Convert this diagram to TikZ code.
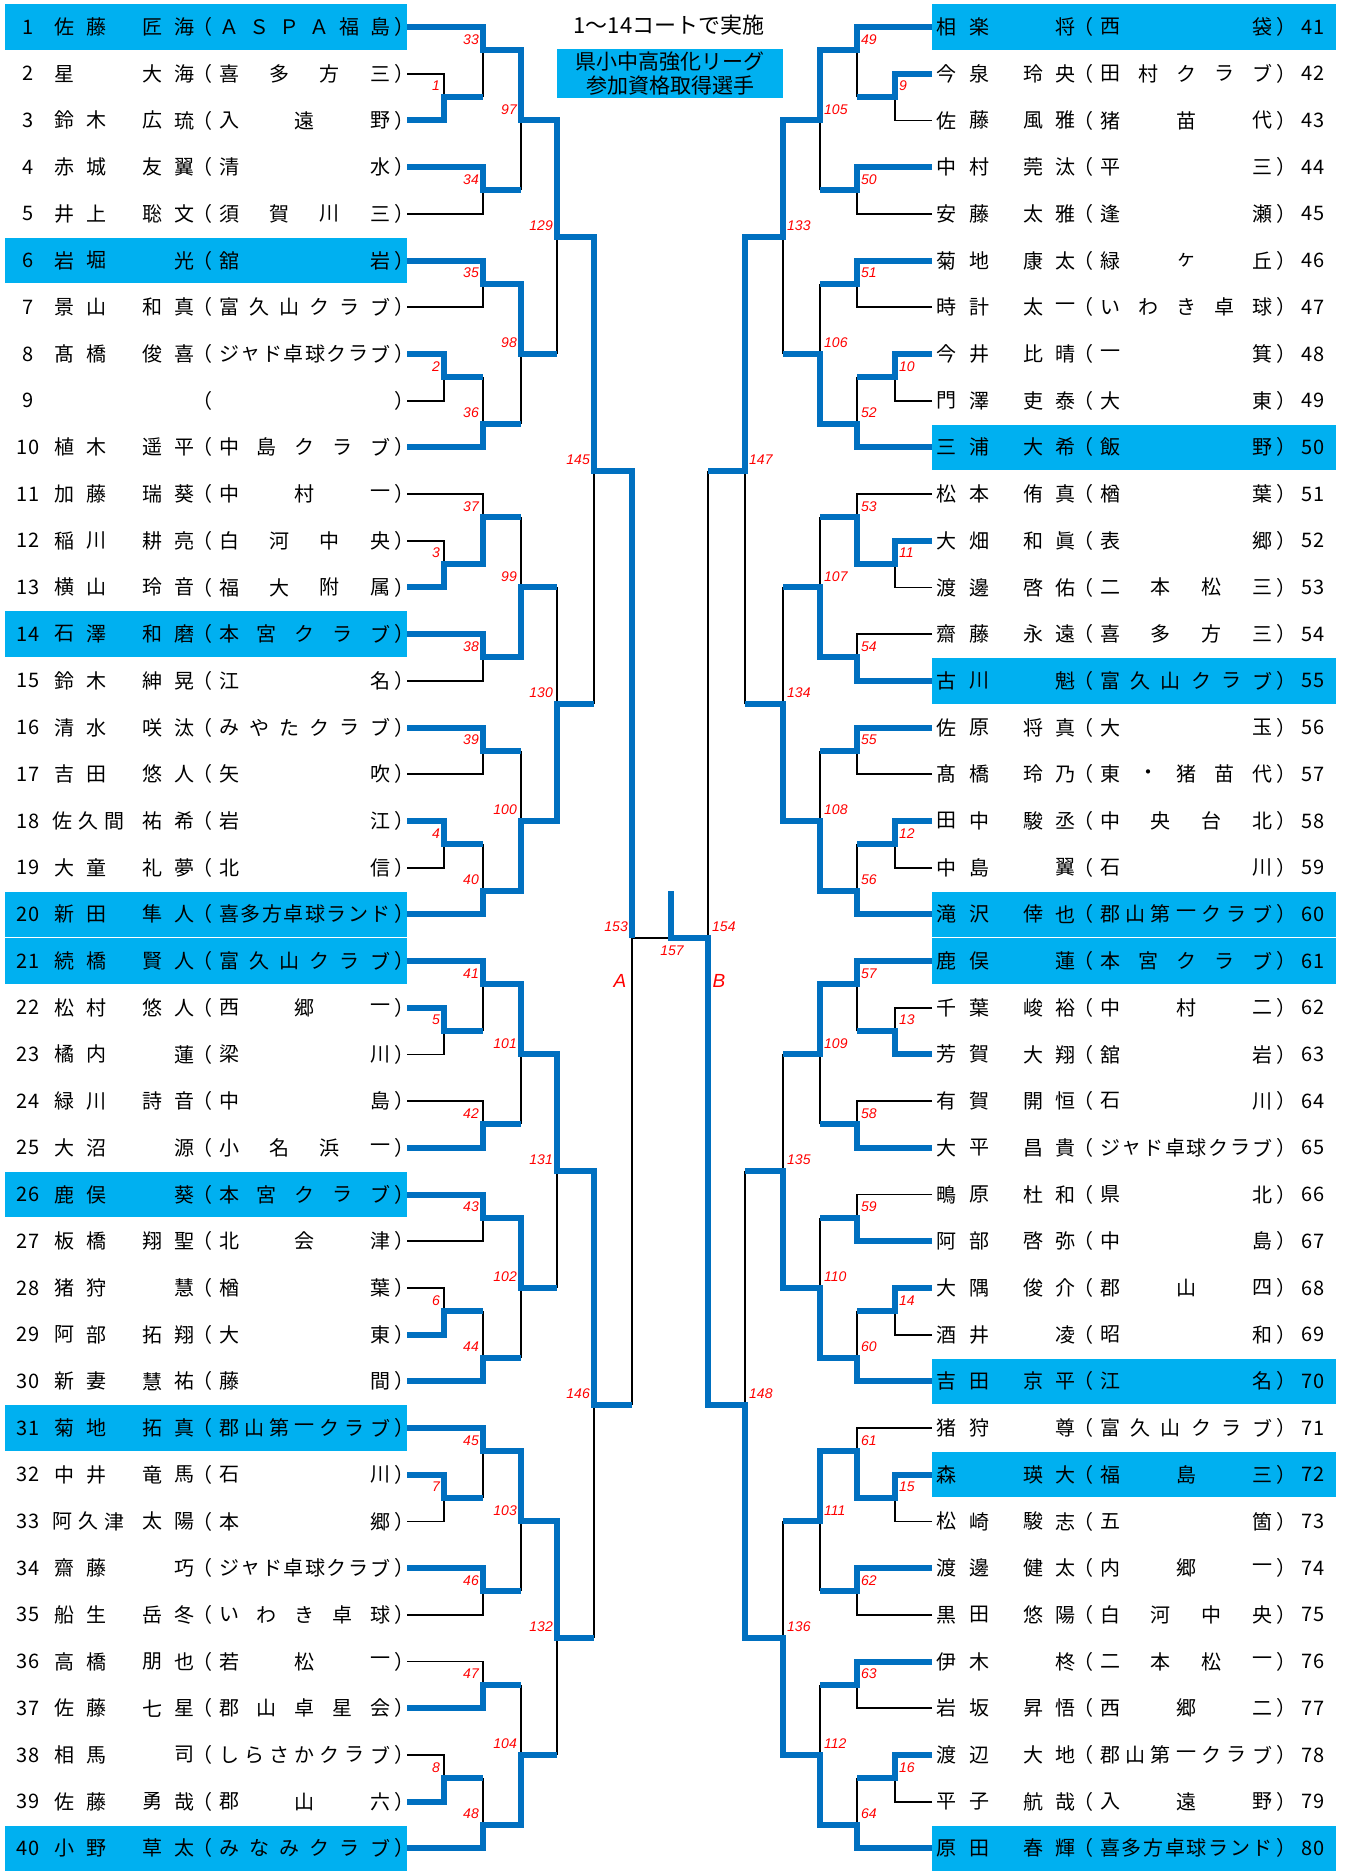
\documentclass[tikz,border=0pt]{standalone}
\usepackage{fontspec}
\setmainfont{Noto Sans CJK JP}
\newfontfamily\labfont{Liberation Sans}
\definecolor{hl}{HTML}{00B0F0}
\definecolor{bl}{HTML}{0070C0}
\definecolor{rd}{HTML}{FF0000}
\tikzset{
  win/.style={draw=bl, line width=6pt},
  lose/.style={draw=black, line width=1.8pt},
  lab/.style={text=rd, font=\labfont\itshape\fontsize{14}{14}\selectfont, inner sep=0pt},
  big/.style={text=rd, font=\labfont\itshape\fontsize{19}{19}\selectfont, inner sep=0pt},
  txt/.style={font=\fontsize{20}{20}\selectfont, inner sep=0pt},
}
\def\cLz{407}\def\cLa{444}\def\cLb{483}\def\cLc{521}\def\cLd{557}\def\cLe{594}\def\cLf{632}
\def\cRz{932}\def\cRa{895}\def\cRb{857}\def\cRc{820}\def\cRd{783}\def\cRe{745}\def\cRf{708}
\def\cMid{670.5}
\newcount\mphase
\newcommand\countlist[2]{\gdef#1{0}\foreach \c [count=\n] in {#2} {\xdef#1{\n}}}
\newcommand\MT[9]{%
 \ifnum\mphase=0
   \ifdim#3pt=#5pt \draw[lose] (#5,{ry(#4)}) -- (#5,{ry(#6)});
   \else \draw[lose] (#3,{ry(#4)}) -- (#5,{ry(#4)}) -- (#5,{ry(#6)}); \fi
 \else
   \draw[win] (#1,{ry(#2)}) -- (#5,{ry(#2)}) -- (#5,{ry(#6)}) -- (#7,{ry(#6)});
   \if#9L \node[lab,anchor=east] (m#8) at ({#5-4},{ry(#6)-11}) {#8};
   \else \node[lab,anchor=west] (m#8) at ({#5+4},{ry(#6)-11}) {#8}; \fi
 \fi}
\newcommand\rowL[5]{%
 \pgfmathsetmacro\yy{ry(#1)}
 \ifnum#5=1 \fill[hl] (5,\yy-22.7) rectangle (407,\yy+22.7);\fi
 \node[txt] (L#1n) at (28,\yy) {#1};
 \countlist\ns{#2}\countlist\ng{#3}\countlist\nt{#4}
 \foreach \c [count=\i] in {#2} {\pgfmathsetmacro\xx{\ns>2 ? 62+(\i-1)*26 : 64+(\i-1)*32}\node[txt] (L#1s\i) at (\xx,\yy) {\c};}
 \foreach \c [count=\i] in {#3} {\pgfmathsetmacro\xx{184-(\ng-\i)*32}\node[txt] (L#1g\i) at (\xx,\yy) {\c};}
 \node[txt] (L#1po) at (202.4,\yy) {（};
 \node[txt] (L#1pc) at (404.6,\yy) {）};
 \foreach \c [count=\i] in {#4} {\pgfmathsetmacro\xx{229+(\i-1)*151/max(\nt-1,1)}\node[txt] (L#1t\i) at (\xx,\yy) {\c};}
}
\newcommand\rowR[5]{%
 \pgfmathsetmacro\yy{ry(#1-40)}
 \ifnum#5=1 \fill[hl] (932,\yy-22.7) rectangle (1336,\yy+22.7);\fi
 \node[txt] (R#1n) at (1313,\yy) {#1};
 \countlist\ns{#2}\countlist\ng{#3}\countlist\nt{#4}
 \foreach \c [count=\i] in {#2} {\pgfmathsetmacro\xx{946+(\i-1)*33}\node[txt] (R#1s\i) at (\xx,\yy) {\c};}
 \foreach \c [count=\i] in {#3} {\pgfmathsetmacro\xx{1065-(\ng-\i)*32}\node[txt] (R#1g\i) at (\xx,\yy) {\c};}
 \node[txt] (R#1po) at (1083.4,\yy) {（};
 \node[txt] (R#1pc) at (1286.6,\yy) {）};
 \foreach \c [count=\i] in {#4} {\pgfmathsetmacro\xx{1110+(\i-1)*152/max(\nt-1,1)}\node[txt] (R#1t\i) at (\xx,\yy) {\c};}
}
\newcommand\allmatches{%
% left round 1
\MT{\cLz}{3}{\cLz}{2}{\cLa}{2.5}{\cLb}{1}{L}
\MT{\cLz}{8}{\cLz}{9}{\cLa}{8.5}{\cLb}{2}{L}
\MT{\cLz}{13}{\cLz}{12}{\cLa}{12.5}{\cLb}{3}{L}
\MT{\cLz}{18}{\cLz}{19}{\cLa}{18.5}{\cLb}{4}{L}
\MT{\cLz}{22}{\cLz}{23}{\cLa}{22.5}{\cLb}{5}{L}
\MT{\cLz}{29}{\cLz}{28}{\cLa}{28.5}{\cLb}{6}{L}
\MT{\cLz}{32}{\cLz}{33}{\cLa}{32.5}{\cLb}{7}{L}
\MT{\cLz}{39}{\cLz}{38}{\cLa}{38.5}{\cLb}{8}{L}
% left round 2
\MT{\cLz}{1}{\cLb}{2.5}{\cLb}{1.5}{\cLc}{33}{L}
\MT{\cLz}{4}{\cLz}{5}{\cLb}{4.5}{\cLc}{34}{L}
\MT{\cLz}{6}{\cLz}{7}{\cLb}{6.5}{\cLc}{35}{L}
\MT{\cLz}{10}{\cLb}{8.5}{\cLb}{9.5}{\cLc}{36}{L}
\MT{\cLa}{12.5}{\cLz}{11}{\cLb}{11.5}{\cLc}{37}{L}
\MT{\cLz}{14}{\cLz}{15}{\cLb}{14.5}{\cLc}{38}{L}
\MT{\cLz}{16}{\cLz}{17}{\cLb}{16.5}{\cLc}{39}{L}
\MT{\cLz}{20}{\cLb}{18.5}{\cLb}{19.5}{\cLc}{40}{L}
\MT{\cLz}{21}{\cLb}{22.5}{\cLb}{21.5}{\cLc}{41}{L}
\MT{\cLz}{25}{\cLz}{24}{\cLb}{24.5}{\cLc}{42}{L}
\MT{\cLz}{26}{\cLz}{27}{\cLb}{26.5}{\cLc}{43}{L}
\MT{\cLz}{30}{\cLb}{28.5}{\cLb}{29.5}{\cLc}{44}{L}
\MT{\cLz}{31}{\cLb}{32.5}{\cLb}{31.5}{\cLc}{45}{L}
\MT{\cLz}{34}{\cLz}{35}{\cLb}{34.5}{\cLc}{46}{L}
\MT{\cLz}{37}{\cLz}{36}{\cLb}{36.5}{\cLc}{47}{L}
\MT{\cLz}{40}{\cLb}{38.5}{\cLb}{39.5}{\cLc}{48}{L}
% left round 3
\MT{\cLb}{1.5}{\cLc}{4.5}{\cLc}{3}{\cLd}{97}{L}
\MT{\cLb}{6.5}{\cLc}{9.5}{\cLc}{8}{\cLd}{98}{L}
\MT{\cLb}{14.5}{\cLc}{11.5}{\cLc}{13}{\cLd}{99}{L}
\MT{\cLb}{19.5}{\cLc}{16.5}{\cLc}{18}{\cLd}{100}{L}
\MT{\cLb}{21.5}{\cLc}{24.5}{\cLc}{23}{\cLd}{101}{L}
\MT{\cLb}{26.5}{\cLc}{29.5}{\cLc}{28}{\cLd}{102}{L}
\MT{\cLb}{31.5}{\cLc}{34.5}{\cLc}{33}{\cLd}{103}{L}
\MT{\cLb}{39.5}{\cLc}{36.5}{\cLc}{38}{\cLd}{104}{L}
% left round 4
\MT{\cLc}{3}{\cLd}{8}{\cLd}{5.5}{\cLe}{129}{L}
\MT{\cLc}{18}{\cLd}{13}{\cLd}{15.5}{\cLe}{130}{L}
\MT{\cLc}{23}{\cLd}{28}{\cLd}{25.5}{\cLe}{131}{L}
\MT{\cLc}{33}{\cLd}{38}{\cLd}{35.5}{\cLe}{132}{L}
% left round 5
\MT{\cLd}{5.5}{\cLe}{15.5}{\cLe}{10.5}{\cLf}{145}{L}
\MT{\cLd}{25.5}{\cLe}{35.5}{\cLe}{30.5}{\cLf}{146}{L}
% right round 1
\MT{\cRz}{2}{\cRz}{3}{\cRa}{2.5}{\cRb}{9}{R}
\MT{\cRz}{8}{\cRz}{9}{\cRa}{8.5}{\cRb}{10}{R}
\MT{\cRz}{12}{\cRz}{13}{\cRa}{12.5}{\cRb}{11}{R}
\MT{\cRz}{18}{\cRz}{19}{\cRa}{18.5}{\cRb}{12}{R}
\MT{\cRz}{23}{\cRz}{22}{\cRa}{22.5}{\cRb}{13}{R}
\MT{\cRz}{28}{\cRz}{29}{\cRa}{28.5}{\cRb}{14}{R}
\MT{\cRz}{32}{\cRz}{33}{\cRa}{32.5}{\cRb}{15}{R}
\MT{\cRz}{38}{\cRz}{39}{\cRa}{38.5}{\cRb}{16}{R}
% right round 2
\MT{\cRz}{1}{\cRb}{2.5}{\cRb}{1.5}{\cRc}{49}{R}
\MT{\cRz}{4}{\cRz}{5}{\cRb}{4.5}{\cRc}{50}{R}
\MT{\cRz}{6}{\cRz}{7}{\cRb}{6.5}{\cRc}{51}{R}
\MT{\cRz}{10}{\cRb}{8.5}{\cRb}{9.5}{\cRc}{52}{R}
\MT{\cRa}{12.5}{\cRz}{11}{\cRb}{11.5}{\cRc}{53}{R}
\MT{\cRz}{15}{\cRz}{14}{\cRb}{14.5}{\cRc}{54}{R}
\MT{\cRz}{16}{\cRz}{17}{\cRb}{16.5}{\cRc}{55}{R}
\MT{\cRz}{20}{\cRb}{18.5}{\cRb}{19.5}{\cRc}{56}{R}
\MT{\cRz}{21}{\cRb}{22.5}{\cRb}{21.5}{\cRc}{57}{R}
\MT{\cRz}{25}{\cRz}{24}{\cRb}{24.5}{\cRc}{58}{R}
\MT{\cRz}{27}{\cRz}{26}{\cRb}{26.5}{\cRc}{59}{R}
\MT{\cRz}{30}{\cRb}{28.5}{\cRb}{29.5}{\cRc}{60}{R}
\MT{\cRa}{32.5}{\cRz}{31}{\cRb}{31.5}{\cRc}{61}{R}
\MT{\cRz}{34}{\cRz}{35}{\cRb}{34.5}{\cRc}{62}{R}
\MT{\cRz}{36}{\cRz}{37}{\cRb}{36.5}{\cRc}{63}{R}
\MT{\cRz}{40}{\cRb}{38.5}{\cRb}{39.5}{\cRc}{64}{R}
% right round 3
\MT{\cRb}{1.5}{\cRc}{4.5}{\cRc}{3}{\cRd}{105}{R}
\MT{\cRb}{9.5}{\cRc}{6.5}{\cRc}{8}{\cRd}{106}{R}
\MT{\cRb}{14.5}{\cRc}{11.5}{\cRc}{13}{\cRd}{107}{R}
\MT{\cRb}{19.5}{\cRc}{16.5}{\cRc}{18}{\cRd}{108}{R}
\MT{\cRb}{21.5}{\cRc}{24.5}{\cRc}{23}{\cRd}{109}{R}
\MT{\cRb}{29.5}{\cRc}{26.5}{\cRc}{28}{\cRd}{110}{R}
\MT{\cRb}{31.5}{\cRc}{34.5}{\cRc}{33}{\cRd}{111}{R}
\MT{\cRb}{39.5}{\cRc}{36.5}{\cRc}{38}{\cRd}{112}{R}
% right round 4
\MT{\cRc}{3}{\cRd}{8}{\cRd}{5.5}{\cRe}{133}{R}
\MT{\cRc}{18}{\cRd}{13}{\cRd}{15.5}{\cRe}{134}{R}
\MT{\cRc}{28}{\cRd}{23}{\cRd}{25.5}{\cRe}{135}{R}
\MT{\cRc}{38}{\cRd}{33}{\cRd}{35.5}{\cRe}{136}{R}
% right round 5
\MT{\cRd}{5.5}{\cRe}{15.5}{\cRe}{10.5}{\cRf}{147}{R}
\MT{\cRd}{35.5}{\cRe}{25.5}{\cRe}{30.5}{\cRf}{148}{R}
}
\begin{document}
\begin{tikzpicture}[x=1pt,y=-1pt,declare function={ry(\u)=27+(\u-1)*46.7;}]
\fill[white] (0,0) rectangle (1346,1871);
\useasboundingbox (0,0) rectangle (1346,1871);
% title
\node[font=\fontsize{22}{22}\selectfont, inner sep=0pt] (title) at (669,25) {1〜14コートで実施};
\node[fill=hl, minimum width=226pt, minimum height=49pt, inner sep=0pt] (qbox) at (670,73.5) {};
\node[font=\fontsize{21}{21}\selectfont, inner sep=0pt] (q1) at (670,62) {県小中高強化リーグ};
\node[font=\fontsize{21}{21}\selectfont, inner sep=0pt] (q2) at (670,85.5) {参加資格取得選手};
% left rows
\rowL{1}{佐,藤}{匠,海}{Ａ,Ｓ,Ｐ,Ａ,福,島}{1}
\rowL{2}{星}{大,海}{喜,多,方,三}{0}
\rowL{3}{鈴,木}{広,琉}{入,遠,野}{0}
\rowL{4}{赤,城}{友,翼}{清,水}{0}
\rowL{5}{井,上}{聡,文}{須,賀,川,三}{0}
\rowL{6}{岩,堀}{光}{舘,岩}{1}
\rowL{7}{景,山}{和,真}{富,久,山,ク,ラ,ブ}{0}
\rowL{8}{髙,橋}{俊,喜}{ジ,ャ,ド,卓,球,ク,ラ,ブ}{0}
\node[txt] (L9n) at (28,{ry(9)}) {9};
\node[txt] (L9po) at (202.4,{ry(9)}) {（};
\node[txt] (L9pc) at (404.6,{ry(9)}) {）};
\rowL{10}{植,木}{遥,平}{中,島,ク,ラ,ブ}{0}
\rowL{11}{加,藤}{瑞,葵}{中,村,一}{0}
\rowL{12}{稲,川}{耕,亮}{白,河,中,央}{0}
\rowL{13}{横,山}{玲,音}{福,大,附,属}{0}
\rowL{14}{石,澤}{和,磨}{本,宮,ク,ラ,ブ}{1}
\rowL{15}{鈴,木}{紳,晃}{江,名}{0}
\rowL{16}{清,水}{咲,汰}{み,や,た,ク,ラ,ブ}{0}
\rowL{17}{吉,田}{悠,人}{矢,吹}{0}
\rowL{18}{佐,久,間}{祐,希}{岩,江}{0}
\rowL{19}{大,童}{礼,夢}{北,信}{0}
\rowL{20}{新,田}{隼,人}{喜,多,方,卓,球,ラ,ン,ド}{1}
\rowL{21}{続,橋}{賢,人}{富,久,山,ク,ラ,ブ}{1}
\rowL{22}{松,村}{悠,人}{西,郷,一}{0}
\rowL{23}{橘,内}{蓮}{梁,川}{0}
\rowL{24}{緑,川}{詩,音}{中,島}{0}
\rowL{25}{大,沼}{源}{小,名,浜,一}{0}
\rowL{26}{鹿,俣}{葵}{本,宮,ク,ラ,ブ}{1}
\rowL{27}{板,橋}{翔,聖}{北,会,津}{0}
\rowL{28}{猪,狩}{慧}{楢,葉}{0}
\rowL{29}{阿,部}{拓,翔}{大,東}{0}
\rowL{30}{新,妻}{慧,祐}{藤,間}{0}
\rowL{31}{菊,地}{拓,真}{郡,山,第,一,ク,ラ,ブ}{1}
\rowL{32}{中,井}{竜,馬}{石,川}{0}
\rowL{33}{阿,久,津}{太,陽}{本,郷}{0}
\rowL{34}{齋,藤}{巧}{ジ,ャ,ド,卓,球,ク,ラ,ブ}{0}
\rowL{35}{船,生}{岳,冬}{い,わ,き,卓,球}{0}
\rowL{36}{高,橋}{朋,也}{若,松,一}{0}
\rowL{37}{佐,藤}{七,星}{郡,山,卓,星,会}{0}
\rowL{38}{相,馬}{司}{し,ら,さ,か,ク,ラ,ブ}{0}
\rowL{39}{佐,藤}{勇,哉}{郡,山,六}{0}
\rowL{40}{小,野}{草,太}{み,な,み,ク,ラ,ブ}{1}
% right rows
\rowR{41}{相,楽}{将}{西,袋}{1}
\rowR{42}{今,泉}{玲,央}{田,村,ク,ラ,ブ}{0}
\rowR{43}{佐,藤}{風,雅}{猪,苗,代}{0}
\rowR{44}{中,村}{莞,汰}{平,三}{0}
\rowR{45}{安,藤}{太,雅}{逢,瀬}{0}
\rowR{46}{菊,地}{康,太}{緑,ヶ,丘}{0}
\rowR{47}{時,計}{太,一}{い,わ,き,卓,球}{0}
\rowR{48}{今,井}{比,晴}{一,箕}{0}
\rowR{49}{門,澤}{吏,泰}{大,東}{0}
\rowR{50}{三,浦}{大,希}{飯,野}{1}
\rowR{51}{松,本}{侑,真}{楢,葉}{0}
\rowR{52}{大,畑}{和,眞}{表,郷}{0}
\rowR{53}{渡,邊}{啓,佑}{二,本,松,三}{0}
\rowR{54}{齋,藤}{永,遠}{喜,多,方,三}{0}
\rowR{55}{古,川}{魁}{富,久,山,ク,ラ,ブ}{1}
\rowR{56}{佐,原}{将,真}{大,玉}{0}
\rowR{57}{髙,橋}{玲,乃}{東,・,猪,苗,代}{0}
\rowR{58}{田,中}{駿,丞}{中,央,台,北}{0}
\rowR{59}{中,島}{翼}{石,川}{0}
\rowR{60}{滝,沢}{倖,也}{郡,山,第,一,ク,ラ,ブ}{1}
\rowR{61}{鹿,俣}{蓮}{本,宮,ク,ラ,ブ}{1}
\rowR{62}{千,葉}{峻,裕}{中,村,二}{0}
\rowR{63}{芳,賀}{大,翔}{舘,岩}{0}
\rowR{64}{有,賀}{開,恒}{石,川}{0}
\rowR{65}{大,平}{昌,貴}{ジ,ャ,ド,卓,球,ク,ラ,ブ}{0}
\rowR{66}{鴫,原}{杜,和}{県,北}{0}
\rowR{67}{阿,部}{啓,弥}{中,島}{0}
\rowR{68}{大,隅}{俊,介}{郡,山,四}{0}
\rowR{69}{酒,井}{凌}{昭,和}{0}
\rowR{70}{吉,田}{京,平}{江,名}{1}
\rowR{71}{猪,狩}{尊}{富,久,山,ク,ラ,ブ}{0}
\rowR{72}{森}{瑛,大}{福,島,三}{1}
\rowR{73}{松,崎}{駿,志}{五,箇}{0}
\rowR{74}{渡,邊}{健,太}{内,郷,一}{0}
\rowR{75}{黒,田}{悠,陽}{白,河,中,央}{0}
\rowR{76}{伊,木}{柊}{二,本,松,一}{0}
\rowR{77}{岩,坂}{昇,悟}{西,郷,二}{0}
\rowR{78}{渡,辺}{大,地}{郡,山,第,一,ク,ラ,ブ}{0}
\rowR{79}{平,子}{航,哉}{入,遠,野}{0}
\rowR{80}{原,田}{春,輝}{喜,多,方,卓,球,ラ,ン,ド}{1}
% bracket
\mphase=0 \allmatches
\draw[lose] (\cLf,{ry(30.5)}) -- (\cLf,{ry(20.5)}) -- (\cMid,{ry(20.5)});
\draw[lose] (\cRf,{ry(10.5)}) -- (\cRf,{ry(20.5)});
\mphase=1 \allmatches
\draw[win] (\cLe,{ry(10.5)}) -- (\cLf,{ry(10.5)}) -- (\cLf,{ry(20.5)});
\draw[win] (\cRe,{ry(30.5)}) -- (\cRf,{ry(30.5)}) -- (\cRf,{ry(20.5)}) -- (\cMid,{ry(20.5)}) -- (\cMid,{ry(19.5)});
\node[lab,anchor=east] (m153) at ({\cLf-4},{ry(20.5)-11}) {153};
\node[lab,anchor=west] (m154) at ({\cRf+4},{ry(20.5)-11}) {154};
\node[lab] (m157) at (672,{ry(20.5)+13}) {157};
\node[big] (lA) at (620,{ry(20.5)+43}) {A};
\node[big] (lB) at (719,{ry(20.5)+43}) {B};
\end{tikzpicture}
\end{document}
